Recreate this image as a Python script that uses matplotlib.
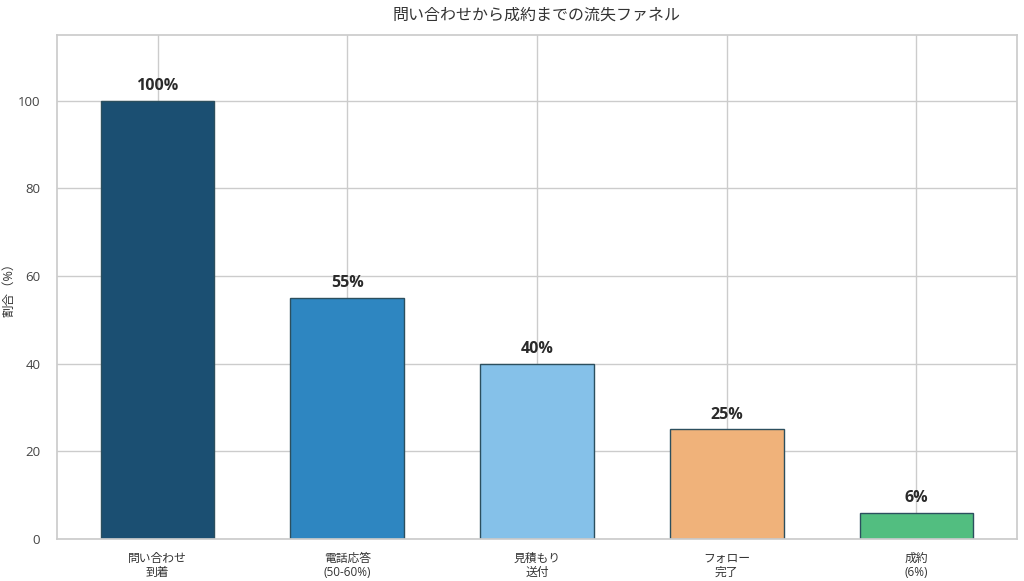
import numpy as np
import matplotlib
matplotlib.use('Agg')
import matplotlib.pyplot as plt
import seaborn as sns

# funnel stages (tick labels) and share of inquiries (%)
stages = ['問い合わせ\n到着', '電話応答\n(50-60%)', '見積もり\n送付', 'フォロー\n完了', '成約\n(6%)']
values = [100, 55, 40, 25, 6]
bar_colors = ['#1b4f72', '#2e86c1', '#85c1e9', '#f0b27a', '#52be80']

sns.set_theme(style='whitegrid')
plt.rcParams['font.family'] = ['Open Sans', 'Noto Sans CJK JP', 'DejaVu Sans']

fig = plt.figure(figsize=(10.24, 5.81), dpi=100)
ax = fig.add_axes([57 / 1024, 1 - 539 / 581, 960 / 1024, 504 / 581])

x = np.arange(len(stages))
bars = ax.bar(x, values, width=0.6, color=bar_colors, edgecolor='#2c4f5e', linewidth=1.0, zorder=2)

for b, v in zip(bars, values):
    ax.text(b.get_x() + b.get_width() / 2, v + 1.5, f'{v}%', ha='center', va='bottom',
            fontsize=11.5, fontweight='bold', color='#2a2a2a', zorder=3)

ax.set_xticks(x)
ax.set_xticklabels(stages, fontsize=8.5, linespacing=1.1, color='#333333')
ax.tick_params(axis='y', labelsize=9.5, labelcolor='#444444', pad=6)
ax.set_ylim(0, 115)
ax.set_ylabel('割合（%）', fontsize=9, labelpad=2, color='#333333')
ax.set_title('問い合わせから成約までの流失ファネル', fontsize=11.5, pad=11, color='#333333')
ax.set_axisbelow(True)

fig.savefig('out.png', dpi=100)
